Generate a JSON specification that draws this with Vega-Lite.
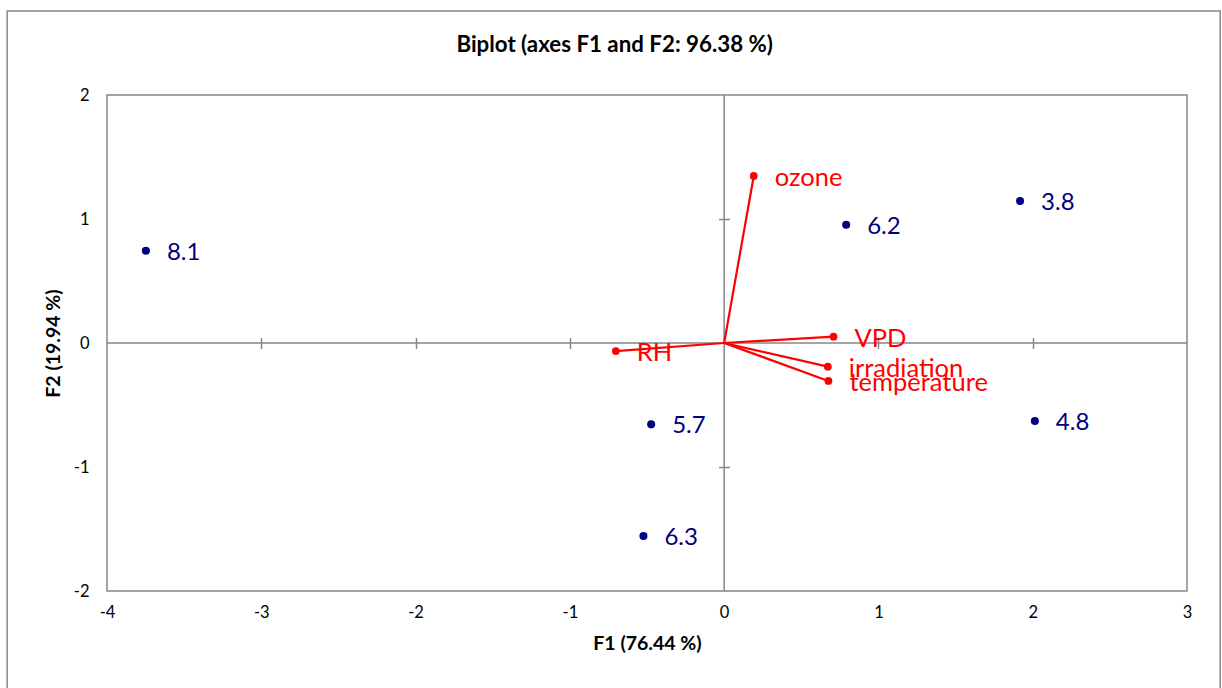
{
  "$schema": "https://vega.github.io/schema/vega-lite/v6.json",
  "width": 1080,
  "height": 496,
  "autosize": {"type": "none"},
  "padding": {"left": 107, "top": 95, "right": 35, "bottom": 97},
  "background": "white",
  "config": {"view": {"stroke": "#868686", "strokeWidth": 1.5}, "font": "Lato"},
  "title": {"text": "Biplot (axes F1 and F2: 96.38 %)", "anchor": "middle", "frame": "bounds", "dx": 1, "baseline": "alphabetic", "fontSize": 22.3, "fontWeight": "bold", "color": "black", "offset": -64, "font": "Lato"},
  "datasets": {
    "obs": [
      {"label": "8.1", "F1": -3.748, "F2": 0.744},
      {"label": "3.8", "F1": 1.918, "F2": 1.145},
      {"label": "6.2", "F1": 0.791, "F2": 0.954},
      {"label": "4.8", "F1": 2.014, "F2": -0.629},
      {"label": "5.7", "F1": -0.473, "F2": -0.656},
      {"label": "6.3", "F1": -0.523, "F2": -1.556}
    ],
    "vars": [
      {"label": "ozone", "F1": 0.192, "F2": 1.347},
      {"label": "VPD", "F1": 0.709, "F2": 0.051},
      {"label": "irradiation", "F1": 0.672, "F2": -0.191},
      {"label": "temperature", "F1": 0.676, "F2": -0.306},
      {"label": "RH", "F1": -0.702, "F2": -0.065}
    ]
  },
  "layer": [
    {
      "data": {"values": [{}]},
      "mark": {"type": "rect", "fillOpacity": 0, "stroke": "#868686", "strokeWidth": 1.5},
      "encoding": {
        "x": {"datum": -4.647, "type": "quantitative", "scale": {"domain": [-4, 3], "nice": false, "zero": false}, "axis": null},
        "x2": {"datum": 3.215},
        "y": {"datum": 2.677, "type": "quantitative", "scale": {"domain": [-2, 2], "nice": false, "zero": false}, "axis": null},
        "y2": {"datum": -2.9}
      }
    },
    {
      "data": {"values": [{}]},
      "mark": {"type": "rule", "color": "#868686", "strokeWidth": 1.5},
      "encoding": {
        "x": {"datum": 0, "type": "quantitative", "scale": {"domain": [-4, 3], "nice": false, "zero": false}, "axis": null}
      }
    },
    {
      "data": {"values": [{}]},
      "mark": {"type": "rule", "color": "#868686", "strokeWidth": 1.5},
      "encoding": {
        "y": {"datum": 0, "type": "quantitative", "scale": {"domain": [-2, 2], "nice": false, "zero": false}, "axis": null}
      }
    },
    {
      "data": {"name": "vars"},
      "mark": {"type": "rule", "color": "#FF0000", "strokeWidth": 2.2},
      "encoding": {
        "x": {"field": "F1", "type": "quantitative", "scale": {"domain": [-4, 3], "nice": false, "zero": false}, "axis": null},
        "y": {"field": "F2", "type": "quantitative", "scale": {"domain": [-2, 2], "nice": false, "zero": false}, "axis": null},
        "x2": {"datum": 0},
        "y2": {"datum": 0}
      }
    },
    {
      "data": {"name": "vars"},
      "mark": {"type": "circle", "color": "#FF0000", "size": 60, "opacity": 1},
      "encoding": {
        "x": {"field": "F1", "type": "quantitative", "scale": {"domain": [-4, 3], "nice": false, "zero": false},
              "axis": {"orient": "bottom", "offset": -253.5, "values": [-3, -2, -1, 1, 2], "domain": false, "labels": false, "ticks": true, "tickSize": 11, "tickColor": "#868686", "tickWidth": 1.5, "grid": false, "title": null}},
        "y": {"field": "F2", "type": "quantitative", "scale": {"domain": [-2, 2], "nice": false, "zero": false},
              "axis": {"orient": "left", "offset": -622.5, "values": [-1, 1], "domain": false, "labels": false, "ticks": true, "tickSize": 11, "tickColor": "#868686", "tickWidth": 1.5, "grid": false, "title": null}}
      }
    },
    {
      "data": {"name": "vars"},
      "mark": {"type": "text", "color": "#FF0000", "align": "left", "baseline": "middle", "dx": 21, "dy": 2, "fontSize": 25.5, "font": "Lato"},
      "encoding": {
        "x": {"field": "F1", "type": "quantitative", "scale": {"domain": [-4, 3], "nice": false, "zero": false}, "axis": null},
        "y": {"field": "F2", "type": "quantitative", "scale": {"domain": [-2, 2], "nice": false, "zero": false}, "axis": null},
        "text": {"field": "label"}
      }
    },
    {
      "data": {"name": "obs"},
      "mark": {"type": "circle", "color": "#000080", "size": 65, "opacity": 1},
      "encoding": {
        "x": {"field": "F1", "type": "quantitative", "scale": {"domain": [-4, 3], "nice": false, "zero": false},
              "axis": {"orient": "bottom", "values": [-4, -3, -2, -1, 0, 1, 2, 3], "labelExpr": "'' + datum.value", "labelFlush": false, "domain": false, "ticks": false, "grid": false, "labelPadding": 13, "labelFontSize": 16.5, "labelColor": "black", "labelFont": "Lato", "title": "F1 (76.44 %)", "titleFont": "Lato", "titleFontSize": 19.5, "titleFontWeight": "bold", "titleColor": "black", "titlePadding": 14}},
        "y": {"field": "F2", "type": "quantitative", "scale": {"domain": [-2, 2], "nice": false, "zero": false},
              "axis": {"orient": "left", "values": [-2, -1, 0, 1, 2], "labelExpr": "'' + datum.value", "labelFlush": false, "domain": false, "ticks": false, "grid": false, "labelPadding": 18, "labelFontSize": 16.5, "labelColor": "black", "labelFont": "Lato", "title": "F2 (19.94 %)", "titleFont": "Lato", "titleFontSize": 19.5, "titleFontWeight": "bold", "titleColor": "black", "titlePadding": 10}}
      }
    },
    {
      "data": {"name": "obs"},
      "mark": {"type": "text", "color": "#000080", "align": "left", "baseline": "middle", "dx": 21, "dy": 2, "fontSize": 24, "font": "Lato"},
      "encoding": {
        "x": {"field": "F1", "type": "quantitative", "scale": {"domain": [-4, 3], "nice": false, "zero": false}, "axis": null},
        "y": {"field": "F2", "type": "quantitative", "scale": {"domain": [-2, 2], "nice": false, "zero": false}, "axis": null},
        "text": {"field": "label"}
      }
    }
  ],
  "resolve": {"axis": {"x": "independent", "y": "independent"}}
}
